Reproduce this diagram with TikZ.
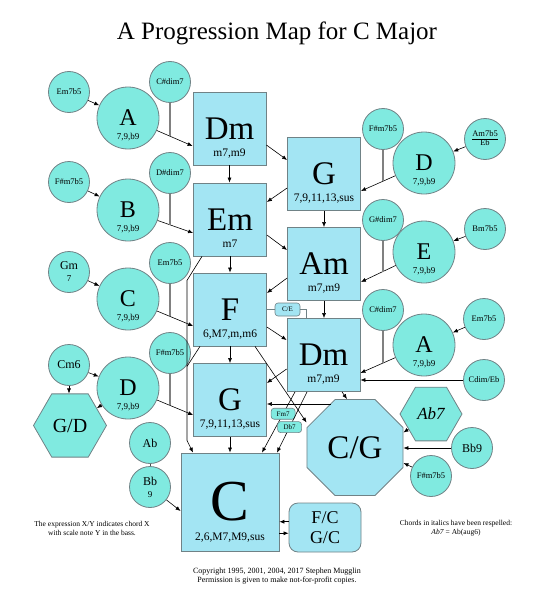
\documentclass[tikz,border=0pt]{standalone}
\usepackage{fontspec}
\setmainfont{Liberation Serif}
\usetikzlibrary{shapes.geometric,arrows.meta}
\definecolor{sqfill}{RGB}{163,229,243}
\definecolor{cfill}{RGB}{128,234,224}
\definecolor{edge}{RGB}{112,130,134}
\def\fsz#1{\fontsize{#1}{#1}\selectfont}
\tikzset{
	sq/.style={draw=edge,fill=sqfill,line width=.8pt,minimum width=73pt,minimum height=73pt,inner sep=0pt,font=\fsz{33}},
	sqsub/.style={label={[font=\fsz{11.5},anchor=base,yshift=9pt,inner sep=0pt]south:#1}},
	bigc/.style={circle,draw=edge,fill=cfill,line width=.8pt,minimum size=62pt,inner sep=0pt,font=\fsz{24}},
	csub/.style={label={[font=\fsz{9},anchor=base,yshift=10pt,inner sep=0pt]south:#1}},
	smallc/.style={circle,draw=edge,fill=cfill,line width=.8pt,minimum size=41pt,inner sep=0pt,font=\fsz{8.5},align=center},
	hex/.style={regular polygon,regular polygon sides=6,draw=edge,fill=cfill,line width=.8pt,inner sep=0pt},
	pill/.style={rectangle,rounded corners=3pt,draw=edge,line width=.6pt,minimum width=24pt,minimum height=11pt,inner sep=0pt,font=\fsz{7}},
	arr/.style={-{Latex[length=5pt,width=4pt]},line width=.6pt},
	dimline/.style={draw=gray,line width=1.4pt},
	note/.style={font=\fontsize{7.5}{9}\selectfont,align=center}
}

\begin{document}
\begin{tikzpicture}[x=1pt,y=-1pt]
	\useasboundingbox (0,0) rectangle (554,610);
	\node[font=\fsz{25}] (title) at (277,33) {A Progression Map for C Major};

	%the chords of the key
	\node[sq,sqsub={m7,m9}] (Dm1) at (229.5,128.5) {Dm};
	\node[sq,sqsub={7,9,11,13,sus}] (G1) at (324,174) {G};
	\node[sq,sqsub={m7}] (Em) at (230,219.5) {Em};
	\node[sq,sqsub={m7,m9}] (Am) at (324,264) {Am};
	\node[sq,sqsub={6,M7,m,m6}] (F) at (230,309.5) {F};
	\node[sq,sqsub={m7,m9}] (Dm2) at (323.5,355) {Dm};
	\node[sq,sqsub={7,9,11,13,sus}] (G2) at (230,400) {G};
	\node[sq,minimum width=98pt,minimum height=98pt,font=\fsz{58},label={[font=\fsz{11.5},anchor=base,yshift=11pt,inner sep=0pt]south:{2,6,M7,M9,sus}}] (C) at (230,502) {C};
	\node[regular polygon,regular polygon sides=8,draw=edge,fill=sqfill,line width=.8pt,minimum size=104pt,inner sep=0pt,font=\fsz{33}] (CG) at (355,447.5) {C/G};
	\node[draw=edge,fill=sqfill,line width=.8pt,rounded corners=9pt,minimum width=72pt,minimum height=49pt,align=center,font=\fontsize{18}{20}\selectfont] (FCGC) at (325,527.5) {F/C\\G/C};

	%secondary chords, left side
	\node[smallc] (EmbA) at (69,92) {Em7b5};
	\node[bigc,csub={7,9,b9}] (A1) at (128,118) {A};
	\node[smallc] (CsdimA) at (170,82) {C\#dim7};
	\node[smallc] (FsmbB) at (69,182) {F\#m7b5};
	\node[bigc,csub={7,9,b9}] (B) at (128,210) {B};
	\node[smallc] (Dsdim) at (170,173) {D\#dim7};
	\node[smallc,font=\fsz{12}] (Gm) at (69,272) {Gm\\{\fsz{9}7}};
	\node[bigc,csub={7,9,b9}] (Cc) at (128,299) {C};
	\node[smallc] (EmbC) at (170,263) {Em7b5};
	\node[smallc,font=\fsz{12}] (Cm6) at (69,365) {Cm6};
	\node[bigc,csub={7,9,b9}] (D1) at (128,388) {D};
	\node[smallc] (FsmbD) at (170,353) {F\#m7b5};
	\node[hex,minimum size=73pt,font=\fsz{20}] (GD) at (70,425.5) {G/D};
	\node[smallc,font=\fsz{12}] (Ab) at (150,443) {Ab};
	\node[smallc,font=\fsz{12}] (Bb) at (150,487) {Bb\\{\fsz{9}9}};

	%secondary chords, right side
	\node[smallc] (FsmbG) at (383,129) {F\#m7b5};
	\node[bigc,csub={7,9,b9}] (D2) at (424,163) {D};
	\node[smallc] (AmbEb) at (485,139) {\begin{tabular}{@{}c@{}}Am7b5\\\hline Eb\end{tabular}};
	\node[smallc] (Gsdim) at (383,220) {G\#dim7};
	\node[bigc,csub={7,9,b9}] (E) at (424,252) {E};
	\node[smallc] (Bmb) at (485,229) {Bm7b5};
	\node[smallc] (CsdimDm) at (383,310) {C\#dim7};
	\node[bigc,csub={7,9,b9}] (A2) at (424,345) {A};
	\node[smallc] (EmbDm) at (484,319) {Em7b5};
	\node[smallc] (CdimEb) at (484,380) {Cdim/Eb};
	\node[hex,minimum size=62pt,font=\fsz{17}\itshape] (Ab7) at (431,414) {Ab7};
	\node[smallc,font=\fsz{12}] (Bb9) at (472,448) {Bb9};
	\node[smallc] (FsmbCG) at (431,476) {F\#m7b5};

	%arrows into the secondary chords
	\draw[arr] (EmbA) -- (A1);
	\draw[arr] (FsmbB) -- (B);
	\draw[arr] (Gm) -- (Cc);
	\draw[arr] (Cm6) -- (D1);
	\draw[arr] (AmbEb) -- (D2);
	\draw[arr] (Bmb) -- (E);
	\draw[arr] (EmbDm) -- (A2);

	%secondary chords resolving
	\draw[arr] (A1) -- ([yshift=-17.5pt]Dm1.west);
	\draw[arr] (B) -- ([yshift=-13.5pt]Em.west);
	\draw[arr] (Cc) -- ([yshift=-16.5pt]F.west);
	\draw[arr] (D1) -- ([yshift=-15pt]G2.west);
	\draw[arr] (D2) -- ([yshift=-17pt]G1.east);
	\draw[arr] (E) -- ([yshift=-18pt]Am.east);
	\draw[arr] (A2) -- ([yshift=-18pt]Dm2.east);
	\draw[arr] (CdimEb) -- (CdimEb -| Dm2.east);

	%the diminished chords hang on those arrows
	\coordinate (jA1) at (170,136.1);
	\coordinate (jB) at (170,224.9);
	\coordinate (jCc) at (170,316.4);
	\coordinate (jD1) at (170,405.4);
	\coordinate (jD2) at (383,181.2);
	\coordinate (jE) at (383,271.5);
	\coordinate (jA2) at (383,363.2);
	\draw[dimline] (CsdimA) -- (jA1);
	\draw[dimline] (Dsdim) -- (jB);
	\draw[dimline] (EmbC) -- (jCc);
	\draw[dimline] (FsmbD) -- (jD1);
	\draw[dimline] (FsmbG) -- (jD2);
	\draw[dimline] (Gsdim) -- (jE);
	\draw[dimline] (CsdimDm) -- (jA2);

	%down the map
	\draw[arr] (Dm1.south) -- (Dm1.south |- Em.north);
	\draw[arr] (Em.south) -- (Em.south |- F.north);
	\draw[arr] (F.south) -- (F.south |- G2.north);
	\draw[arr] (G2.south) -- (G2.south |- C.north);
	\draw[arr] (G1.south) -- (G1.south |- Am.north);
	\draw[arr] (Am.south) -- (Am.south |- Dm2.north);
	\draw[arr] ([yshift=-16.5pt]Dm1.east) -- ([yshift=14pt]G1.west);
	\draw[arr] ([yshift=-14pt]G1.west) -- ([yshift=17.5pt]Em.east);
	\draw[arr] ([yshift=-15.5pt]Em.east) -- ([yshift=14pt]Am.west);
	\draw[arr] ([yshift=-14pt]Am.west) -- ([yshift=16.5pt]F.east);
	\draw[arr] ([yshift=-17.5pt]F.east) -- ([yshift=15pt]Dm2.west);
	\draw[arr] ([yshift=-14pt]Dm2.west) -- ([yshift=17pt]G2.east);
	\draw[arr] ([xshift=18.5pt]Dm2.south) -- ([xshift=-8pt]CG.north);
	\draw[arr] ([xshift=25pt]F.south) -- ([yshift=25pt]CG.west);
	\coordinate (cgl) at (331,404);
	\draw[arr] (cgl) -- (cgl -| G2.east);
	\draw[arr] ([xshift=-28.5pt]Dm2.south) -- node[pill,fill=cfill,pos=.36] (fm7) {Fm7} ([xshift=32pt]C.north);
	\draw[arr] ([xshift=-16.5pt]Dm2.south) -- node[pill,fill=cfill,pos=.58] (db7) {Db7} ([xshift=47pt]C.north);
	\draw[arr] ([xshift=-28pt]Em.south) -- ++(-15,24) -- ++(0,160) -- ([xshift=-37pt]C.north);
	\draw[line width=.6pt] ([xshift=-30pt]F.south) -- ++(-13,20);

	%C/E passing chord
	\node[pill,fill=sqfill,minimum width=25pt,minimum height=13pt] (CE) at (287.5,309.5) {C/E};
	\draw[edge,line width=.8pt] (F.east) -- (CE.west);
	\draw[edge,line width=.8pt] (CE.east) -| ([xshift=-17.5pt]Dm2.north);

	%into C/G
	\draw[arr] (Ab7) -- ([yshift=15pt]CG.east);
	\draw[arr] (Bb9) -- (Bb9 -| CG.east);
	\draw[arr] (FsmbCG) -- ([yshift=-15.5pt]CG.east);

	%bottom left
	\draw[gray!60!black,line width=.6pt] (Ab) -- (Bb);
	\draw[arr] (Bb) -- ([yshift=-9pt]C.west);
	\draw[arr] (Cm6) -- (Cm6 |- GD.north);
	\draw[arr] (D1) -- (GD);
	\draw[arr] (FCGC.171) -- (FCGC.171 -| C.east);
	\draw[arr] (FCGC.189 -| C.east) -- (FCGC.189);

	\node[note] (xy) at (92,528) {The expression X/Y indicates chord X\\with scale note Y in the bass.};
	\node[note] (ital) at (456,528) {Chords in italics have been respelled:\\\textit{Ab7} = Ab(aug6)};
	\node[note,font=\fontsize{8}{9.5}\selectfont] (copy) at (277,576) {Copyright 1995, 2001, 2004, 2017 Stephen Mugglin\\Permission is given to make not-for-profit copies.};
\end{tikzpicture}
\end{document}
